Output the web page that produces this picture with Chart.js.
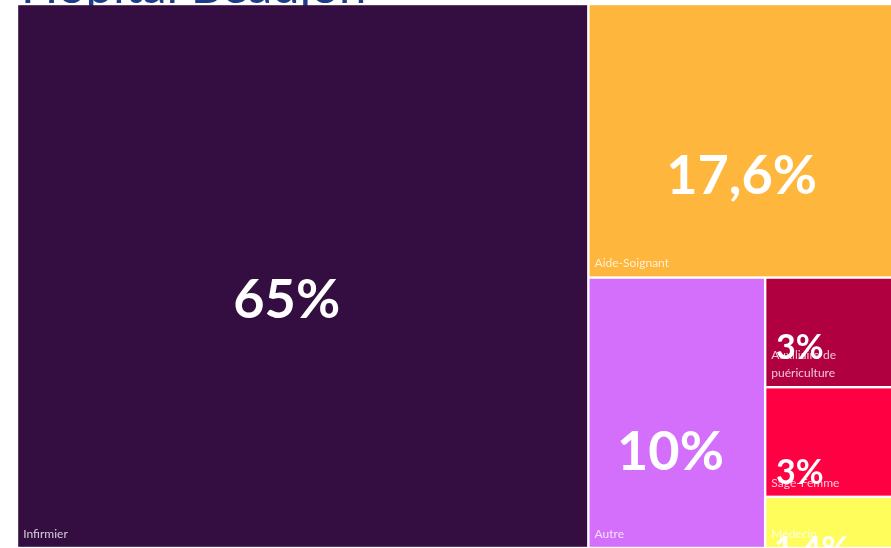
<!DOCTYPE html>
<html><head><meta charset="utf-8">
<script src="https://cdn.jsdelivr.net/npm/chart.js@4.4.1/dist/chart.umd.min.js"></script>
<style>html,body{margin:0;padding:0;background:#fff;overflow:hidden}#wrap{width:891px;height:548px;position:relative;overflow:hidden}canvas{display:block}</style>
</head><body><div id="wrap"><canvas id="c" width="896" height="548"></canvas></div>
<script>
const chartTitle = 'Hôpital Beaujon';
const categories = ['Infirmier', 'Aide-Soignant', 'Autre', 'Auxiliaire de puériculture', 'Sage-Femme', 'Médecin'];
const shares = [65, 17.6, 10, 3, 3, 1.4];
const shareLabels = ['65%', '17,6%', '10%', '3%', '3%', '1,4%'];
const cellColors = ['#350e41', '#feb63d', '#d46ffc', '#b1003f', '#ff0042', '#fefd5c'];

// squarified treemap layout in data units (kx, ky = pixels per data unit)
function squarify(values, rect, kx, ky) {
  const items = values.map((v, i) => ({ v, i }));
  const out = new Array(values.length);
  let r = { ...rect };
  let rem = items.slice();
  while (rem.length) {
    const remSum = rem.reduce((s, d) => s + d.v, 0);
    const pxPerVal = (r.w * kx * r.h * ky) / remSum;
    const side = Math.min(r.w * kx, r.h * ky);
    const worst = (row) => {
      const areas = row.map(d => d.v * pxPerVal);
      const s = areas.reduce((a, b) => a + b, 0);
      const mx = Math.max(...areas), mn = Math.min(...areas);
      return Math.max(side * side * mx / (s * s), (s * s) / (side * side * mn));
    };
    let row = [rem[0]];
    let k = 1;
    while (k < rem.length) {
      const next = row.concat(rem[k]);
      if (worst(next) <= worst(row)) { row = next; k++; } else break;
    }
    const rowSum = row.reduce((s, d) => s + d.v, 0);
    if (r.w * kx >= r.h * ky) {
      const cw = r.w * rowSum / remSum;
      let yy = r.y;
      row.forEach(d => { const hh = r.h * d.v / rowSum; out[d.i] = { x: r.x, y: yy, w: cw, h: hh }; yy += hh; });
      r = { x: r.x + cw, y: r.y, w: r.w - cw, h: r.h };
    } else {
      const ch = r.h * rowSum / remSum;
      let xx = r.x;
      row.forEach(d => { const ww = r.w * d.v / rowSum; out[d.i] = { x: xx, y: r.y, w: ww, h: ch }; xx += ww; });
      r = { x: r.x, y: r.y + ch, w: r.w, h: r.h - ch };
    }
    rem = rem.slice(row.length);
  }
  return out;
}

function wrapText(ctx, text, maxW) {
  const words = text.split(' ');
  const lines = [];
  let cur = '';
  words.forEach(w => {
    const t = cur ? cur + ' ' + w : w;
    if (ctx.measureText(t).width > maxW && cur) { lines.push(cur); cur = w; } else cur = t;
  });
  if (cur) lines.push(cur);
  return lines;
}

const treemapPlugin = {
  id: 'treemap',
  afterDatasetsDraw(chart, args, opts) {
    const { ctx, chartArea: a, scales: { x, y } } = chart;
    const kx = (a.right - a.left) / (x.max - x.min);
    const ky = (a.bottom - a.top) / (y.max - y.min);
    const cells = squarify(opts.values, { x: x.min, y: y.min, w: x.max - x.min, h: y.max - y.min }, kx, ky);
    const g = opts.gap / 2;
    ctx.save();
    cells.forEach((c, i) => {
      const x0 = x.getPixelForValue(c.x) + g, x1 = x.getPixelForValue(c.x + c.w) - g;
      const y0 = y.getPixelForValue(c.y) + g, y1 = y.getPixelForValue(c.y + c.h) - g;
      ctx.fillStyle = opts.colors[i];
      ctx.fillRect(x0, y0, x1 - x0, y1 - y0);
    });
    // category labels
    ctx.font = opts.catFont;
    ctx.fillStyle = opts.catColor;
    ctx.textAlign = 'left';
    ctx.textBaseline = 'alphabetic';
    cells.forEach((c, i) => {
      const x0 = x.getPixelForValue(c.x) + g, x1 = x.getPixelForValue(c.x + c.w) - g;
      const y1 = y.getPixelForValue(c.y + c.h) - g;
      const lines = wrapText(ctx, opts.labels[i], x1 - x0 - 10);
      lines.forEach((ln, j) => {
        ctx.fillText(ln, x0 + 5, y1 - opts.catBottom - (lines.length - 1 - j) * opts.catLineH);
      });
    });
    // value labels
    ctx.fillStyle = '#ffffff';
    cells.forEach((c, i) => {
      const p = opts.valuePlacement[i];
      const x0 = x.getPixelForValue(c.x) + g, x1 = x.getPixelForValue(c.x + c.w) - g;
      const y0 = y.getPixelForValue(c.y) + g, y1 = y.getPixelForValue(c.y + c.h) - g;
      ctx.font = 'bold ' + p.size + 'px Lato, "Open Sans", sans-serif';
      ctx.textAlign = p.align;
      ctx.fillText(opts.valueLabels[i], x0 + (x1 - x0) * p.ax, y0 + (y1 - y0) * p.ay);
    });
    ctx.restore();
  },
  beforeDraw(chart, args, opts) {
    const ctx = chart.ctx;
    ctx.save();
    ctx.fillStyle = '#ffffff';
    ctx.fillRect(0, 0, chart.width, chart.height);
    ctx.font = opts.titleFont;
    ctx.fillStyle = opts.titleColor;
    ctx.textAlign = 'left';
    ctx.textBaseline = 'alphabetic';
    ctx.fillText(opts.title, 21, 3);
    ctx.restore();
  }
};

new Chart(document.getElementById('c'), {
  type: 'scatter',
  data: { datasets: [{ label: 'Part', data: [] }] },
  plugins: [treemapPlugin],
  options: {
    responsive: false,
    animation: false,
    layout: { padding: { left: 17, top: 4, right: 0, bottom: 0 } },
    scales: {
      x: { type: 'linear', min: 0, max: 100, display: false },
      y: { type: 'linear', min: 0, max: 100, reverse: true, display: false }
    },
    plugins: {
      legend: { display: false },
      tooltip: { enabled: false },
      treemap: {
        title: chartTitle,
        titleFont: '49px Lato, "Open Sans", sans-serif',
        titleColor: '#1d3d8c',
        values: shares,
        labels: categories,
        valueLabels: shareLabels,
        colors: cellColors,
        gap: 2.4,
        catFont: '12px Lato, "Open Sans", sans-serif',
        catColor: 'rgba(255,255,255,0.78)',
        catBottom: 9,
        catLineH: 18,
        valuePlacement: [
          { ax: 0.472, ay: 0.577, align: 'center', size: 54 },
          { ax: 0.498, ay: 0.695, align: 'center', size: 54 },
          { ax: 0.464, ay: 0.715, align: 'center', size: 54 },
          { ax: 0.075, ay: 0.752, align: 'left', size: 34 },
          { ax: 0.075, ay: 0.888, align: 'left', size: 34 },
          { ax: 0.06, ay: 1.29, align: 'left', size: 34 }
        ]
      }
    }
  }
});
</script>
</body></html>
